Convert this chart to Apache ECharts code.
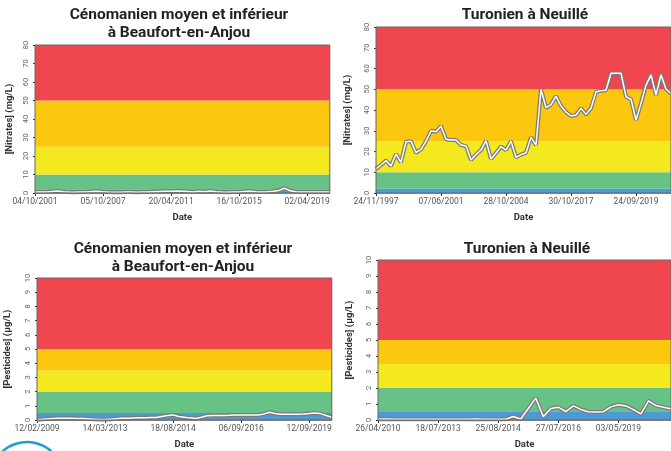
<!DOCTYPE html>
<html lang="fr">
<head>
    <meta charset="UTF-8">
    <title>Nitrates / Pesticides</title>
    <script src="https://cdn.jsdelivr.net/npm/echarts@6/dist/echarts.min.js"></script>
    <style>
        body{ margin: 0; background: #fff; }
        #chart{ width: 671px; height: 451px; }
    </style>
</head>
<body>
    <div id="chart"></div>

    <script>
        // --- données ---
        const titles = [
            'Cénomanien moyen et inférieur\nà Beaufort-en-Anjou',
            'Turonien à Neuillé',
            'Cénomanien moyen et inférieur\nà Beaufort-en-Anjou',
            'Turonien à Neuillé'
        ];

        const ticks_beaufort_no3 = ['04/10/2001', '05/10/2007', '20/04/2011', '16/10/2015', '02/04/2019'];
        const ticks_neuille_no3 = ['24/11/1997', '07/06/2001', '28/10/2004', '30/10/2017', '24/09/2019'];
        const ticks_beaufort_pest = ['12/02/2009', '14/03/2013', '18/08/2014', '06/09/2016', '12/09/2019'];
        const ticks_neuille_pest = ['26/04/2010', '18/07/2013', '25/08/2014', '27/07/2016', '03/05/2019'];

        const beaufort_no3 = [0.5, 0.6, 0.5, 0.8, 1.1, 0.7, 0.5, 0.4, 0.5, 0.6, 0.8, 1.0, 0.7, 0.5, 0.4, 0.4, 0.5, 0.5,
            0.4, 0.5, 0.6, 0.7, 0.8, 0.9, 1.0, 1.1, 1.0, 0.8, 0.6, 1.0, 0.7, 1.1, 0.7, 0.5, 0.4, 0.5, 0.6, 0.8,
            1.0, 0.7, 0.6, 0.7, 0.9, 1.4, 2.6, 1.2, 0.7, 0.5, 0.6, 0.6, 0.5, 0.6, 0.6];

        const neuille_no3 = [11.6, 13.5, 15.6, 13, 18.8, 14.8, 24.7, 25, 19.4, 21, 25, 30, 29.5, 32.3, 25.9, 25.5,
            25.5, 23.1, 22.6, 15.9, 18.5, 20.7, 25.2, 16.4, 19.3, 22.4, 20.7, 25, 17.2, 18.5, 19.4, 26.8, 23.1,
            50, 41.1, 42.6, 46.7, 41.9, 39, 37.1, 37.6, 40.8, 37.9, 40.8, 48.8, 49.3, 49.5, 57.7, 57.7, 57.7,
            46.4, 45.2, 35.2, 43.2, 52, 56.9, 47.2, 57, 50, 48];

        const beaufort_pest = [0.02, 0.05, 0.08, 0.11, 0.13, 0.12, 0.12, 0.11, 0.1, 0.08, 0.06, 0.03, 0.03, 0.06,
            0.09, 0.12, 0.13, 0.14, 0.15, 0.16, 0.17, 0.18, 0.25, 0.32, 0.36, 0.25, 0.2, 0.15, 0.11, 0.2, 0.3,
            0.31, 0.31, 0.32, 0.33, 0.35, 0.36, 0.36, 0.36, 0.36, 0.42, 0.54, 0.46, 0.4, 0.4, 0.4, 0.4, 0.42,
            0.45, 0.5, 0.45, 0.32, 0.2];

        const neuille_pest = [0.05, 0.06, 0.05, 0.05, 0.04, 0.04, 0.05, 0.05, 0.05, 0.04, 0.04, 0.05, 0.05, 0.06,
            0.05, 0.05, 0.04, 0.05, 0.22, 0.06, 0.72, 1.38, 0.21, 0.72, 0.8, 0.52, 0.88, 0.66, 0.52, 0.5, 0.52,
            0.82, 0.95, 0.88, 0.65, 0.38, 1.2, 0.9, 0.8, 0.7];

        // seuils des classes de qualité (bleu, vert, jaune, orange, rouge)
        const seuils_no3 = [0, 2, 10, 25, 50, 80];
        const seuils_pest = [0, 0.5, 2, 3.5, 5, 10];
        const couleurs = ['#4d9ad5', '#67c286', '#f4e81f', '#fbc80f', '#f0464f'];

        // --- mise en page ---
        const panels = [
            {data: beaufort_no3, ticks: ticks_beaufort_no3, step: 12, seuils: seuils_no3, max: 80, interval: 10,
             name: '[Nitrates] (mg/L)', grid: {left: 35, top: 45, width: 294.8, height: 148}, nameGap: 20, tx: 179},
            {data: neuille_no3, ticks: ticks_neuille_no3, step: 13, seuils: seuils_no3, max: 80, interval: 10,
             name: '[Nitrates] (mg/L)', grid: {left: 376, top: 27, width: 308.6, height: 166}, nameGap: 23, tx: 525},
            {data: beaufort_pest, ticks: ticks_beaufort_pest, step: 12, seuils: seuils_pest, max: 10, interval: 1,
             name: '[Pesticides] (µg/L)', grid: {left: 37, top: 278, width: 294.8, height: 149}, nameGap: 24, tx: 183},
            {data: neuille_pest, ticks: ticks_neuille_pest, step: 8, seuils: seuils_pest, max: 10, interval: 1,
             name: '[Pesticides] (µg/L)', grid: {left: 378, top: 260, width: 321.8, height: 167}, nameGap: 23, tx: 527}
        ];
        const title_tops = [6, 6, 240, 240];

        const option = {
            animation: false,
            backgroundColor: '#fff',
            title: [], grid: [], xAxis: [], yAxis: [], series: [],
            graphic: [{
                type: 'arc',
                shape: {cx: 27, cy: 478, r: 36, startAngle: Math.PI * 1.15, endAngle: Math.PI * 1.85},
                style: {stroke: '#1f9fd0', lineWidth: 2.5, fill: null}
            }]
        };

        panels.forEach(function(p, k){
            const cats = p.data.map(function(v, i){ return String(i); });

            option.title.push({
                text: titles[k], left: p.tx, top: title_tops[k], textAlign: 'center', padding: 0,
                textStyle: {fontFamily: 'Roboto', fontSize: 15.5, fontWeight: 'bold', color: '#222', lineHeight: 18}
            });

            option.grid.push(Object.assign({show: true, z: 10, backgroundColor: 'transparent',
                borderColor: '#666', borderWidth: 1}, p.grid));

            option.xAxis.push({
                type: 'category', gridIndex: k, data: cats, boundaryGap: false,
                name: 'Date', nameLocation: 'middle', nameGap: 20,
                nameTextStyle: {fontFamily: 'Roboto', fontSize: 9.5, fontWeight: 'bold', color: '#333'},
                axisLine: {lineStyle: {color: '#999'}},
                axisTick: {interval: p.step - 1, length: 3, lineStyle: {color: '#333'}},
                axisLabel: {
                    interval: p.step - 1, fontFamily: 'Roboto', fontSize: 8.5, color: '#555', margin: 4,
                    formatter: function(v){ return p.ticks[Number(v) / p.step] || ''; }
                },
                splitLine: {show: false}
            });

            option.yAxis.push({
                type: 'value', gridIndex: k, min: 0, max: p.max, interval: p.interval,
                name: p.name, nameLocation: 'middle', nameGap: p.nameGap,
                nameTextStyle: {fontFamily: 'Roboto', fontSize: 9.5, fontWeight: 'bold', color: '#333'},
                axisLine: {show: true, lineStyle: {color: '#bbb'}},
                axisTick: {show: true, length: 2, lineStyle: {color: '#333'}},
                axisLabel: {rotate: 90, fontFamily: 'Roboto', fontSize: 7.5, color: '#666', margin: 5},
                splitLine: {show: false}
            });

            // bandes de qualité
            const zones = [];
            for(let i = 0; i < couleurs.length; i++){
                zones.push([{yAxis: p.seuils[i], itemStyle: {color: couleurs[i]}}, {yAxis: p.seuils[i + 1]}]);
            }
            option.series.push({
                type: 'line', xAxisIndex: k, yAxisIndex: k, data: p.data, symbol: 'none', z: 1,
                lineStyle: {opacity: 0}, silent: true,
                markArea: {silent: true, label: {show: false}, data: zones}
            });

            // courbe : contour gris + trait blanc
            option.series.push({
                type: 'line', xAxisIndex: k, yAxisIndex: k, data: p.data, symbol: 'none', z: 3,
                lineStyle: {color: '#7a7a7a', width: 4}, silent: true
            });
            option.series.push({
                type: 'line', xAxisIndex: k, yAxisIndex: k, data: p.data, symbol: 'none', z: 4,
                lineStyle: {color: '#ffffff', width: 1.5}, silent: true
            });
        });

        const chart = echarts.init(document.getElementById('chart'));
        chart.setOption(option);
    </script>
</body>
</html>
